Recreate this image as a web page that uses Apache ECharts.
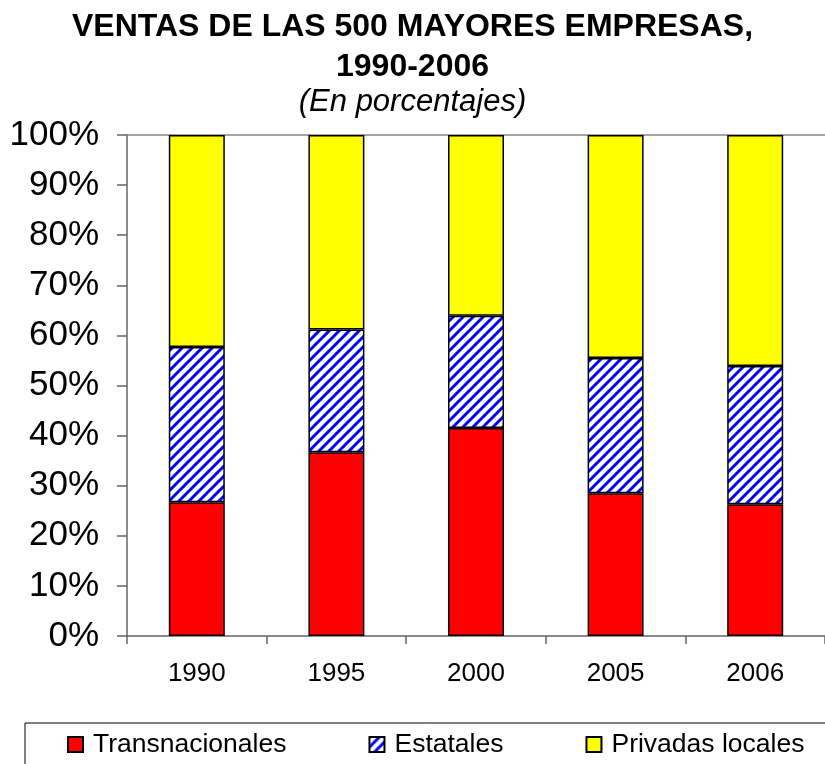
<!DOCTYPE html>
<html lang="es">
<head>
    <meta charset="UTF-8">
    <title>Ventas de las 500 mayores empresas</title>
    <script src="https://cdn.jsdelivr.net/npm/echarts@6/dist/echarts.min.js"></script>
    <style>
        html, body { margin: 0; padding: 0; background: #fff; }
        #chart { width: 825px; height: 764px; }
    </style>
</head>
<body>
    <div id="chart"></div>
<script>
    // datos (porcentajes)
    var years = ['1990', '1995', '2000', '2005', '2006'];
    var transnacionales = [26.7, 36.7, 41.5, 28.5, 26.3];
    var estatales = [31.0, 24.5, 22.4, 27.0, 27.6];
    var privadas = [42.3, 38.8, 36.1, 44.5, 46.1];
    var yTicks = { min: 0, max: 100, interval: 10 };

    var FONT = 'Liberation Sans, Arial, sans-serif';

    // trama diagonal azul para "Estatales"
    function hatch() {
        var s = 10;
        var c = document.createElement('canvas');
        c.width = s; c.height = s;
        var ctx = c.getContext('2d');
        ctx.fillStyle = '#ffffff';
        ctx.fillRect(0, 0, s, s);
        ctx.strokeStyle = '#0000ff';
        ctx.lineWidth = 3;
        ctx.beginPath();
        ctx.moveTo(0, s); ctx.lineTo(s, 0);
        ctx.moveTo(-3, 3); ctx.lineTo(3, -3);
        ctx.moveTo(s - 3, s + 3); ctx.lineTo(s + 3, s - 3);
        ctx.stroke();
        return { image: c, repeat: 'repeat' };
    }

    var chart = echarts.init(document.getElementById('chart'));
    var barStyle = { borderColor: '#000', borderWidth: 1.5 };

    var option = {
        animation: false,
        textStyle: { fontFamily: FONT },
        title: [{
            text: 'VENTAS DE LAS 500 MAYORES EMPRESAS,\n1990-2006',
            left: 'center',
            top: 7,
            padding: 0,
            textStyle: { fontFamily: FONT, fontSize: 32, fontWeight: 'bold', color: '#000', lineHeight: 40 }
        }, {
            text: '(En porcentajes)',
            left: 'center',
            top: 87,
            padding: 0,
            textStyle: { fontFamily: FONT, fontSize: 31, fontWeight: 'normal', fontStyle: 'italic', color: '#000', lineHeight: 31 }
        }],
        legend: {
            left: 25,
            top: 723,
            width: 770,
            padding: [8, 60, 18, 42],
            borderColor: '#000',
            borderWidth: 1,
            icon: 'rect',
            itemWidth: 15,
            itemHeight: 15,
            itemGap: 82,
            textStyle: { fontFamily: FONT, fontSize: 26.5, color: '#000', padding: [0, 0, 0, 5] },
            data: ['Transnacionales', 'Estatales', 'Privadas locales']
        },
        grid: { left: 127, top: 135, width: 700, height: 501, containLabel: false },
        xAxis: [{
            type: 'category',
            data: years,
            axisLine: { lineStyle: { color: '#666', width: 1.5 } },
            axisTick: { show: true, length: 8, lineStyle: { color: '#666', width: 1.5 } },
            axisLabel: { fontFamily: FONT, fontSize: 26, color: '#000', margin: 25 }
        }, {
            type: 'category',
            position: 'top',
            data: years,
            axisLine: { show: true, lineStyle: { color: '#888', width: 1.5 } },
            axisTick: { show: false },
            axisLabel: { show: false }
        }],
        yAxis: {
            type: 'value',
            min: yTicks.min,
            max: yTicks.max,
            interval: yTicks.interval,
            axisLine: { show: true, lineStyle: { color: '#666', width: 1.5 } },
            axisTick: { show: true, length: 10, lineStyle: { color: '#666', width: 1.5 } },
            axisLabel: { fontFamily: FONT, fontSize: 35, color: '#000', margin: 28, formatter: '{value}%' },
            splitLine: { show: false }
        },
        series: [{
            name: 'Transnacionales',
            type: 'bar',
            stack: 'total',
            barWidth: 56,
            itemStyle: Object.assign({ color: '#ff0000' }, barStyle),
            data: transnacionales
        }, {
            name: 'Estatales',
            type: 'bar',
            stack: 'total',
            barWidth: 56,
            itemStyle: Object.assign({ color: hatch() }, barStyle),
            data: estatales
        }, {
            name: 'Privadas locales',
            type: 'bar',
            stack: 'total',
            barWidth: 56,
            itemStyle: Object.assign({ color: '#ffff00' }, barStyle),
            data: privadas
        }]
    };
    chart.setOption(option);
</script>
</body>
</html>
